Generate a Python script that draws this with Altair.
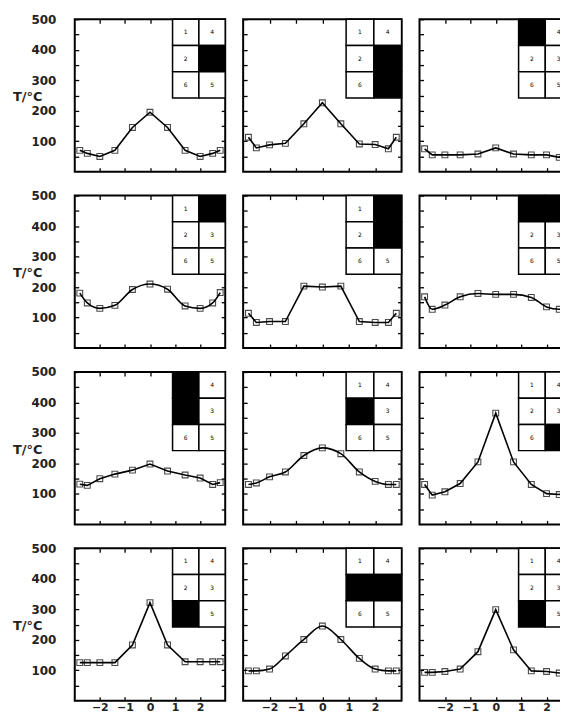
import altair as alt
import pandas as pd

# ---- data ----
X = [-2.8, -2.5, -2.0, -1.4, -0.7, 0.0, 0.7, 1.4, 2.0, 2.5, 2.8]

T_11 = [70, 60, 50, 70, 145, 195, 145, 70, 50, 60, 70]
T_12 = [113, 78, 88, 93, 157, 226, 157, 91, 89, 75, 113]
T_13 = [75, 55, 55, 55, 58, 78, 58, 55, 55, 47, 75]
T_21 = [180, 148, 130, 140, 192, 210, 193, 138, 130, 148, 182]
T_22 = [114, 84, 87, 87, 203, 200, 203, 87, 84, 84, 114]
T_23 = [168, 127, 141, 168, 179, 176, 176, 166, 135, 127, 171]
T_31 = [132, 128, 150, 165, 178, 198, 175, 162, 152, 131, 137]
T_32 = [131, 136, 156, 172, 226, 251, 232, 172, 141, 131, 131]
T_33 = [131, 96, 107, 134, 205, 365, 205, 131, 101, 98, 112]
T_41 = [125, 125, 125, 125, 183, 322, 183, 128, 128, 128, 128]
T_42 = [98, 98, 104, 147, 201, 245, 201, 139, 104, 98, 98]
T_43 = [93, 93, 96, 104, 161, 299, 167, 98, 96, 91, 93]
PANELS = [T_11, T_12, T_13, T_21, T_22, T_23, T_31, T_32, T_33, T_41, T_42, T_43]

# which inset cells are black in each panel
BLACK = [[3], [3, 5], [1], [4], [4, 3], [1, 4], [1, 2], [2], [5], [6], [2, 3], [6]]
# inset cell numbers: rows top->bottom, columns left->right
CELL_LABELS = [[1, 4], [2, 3], [6, 5]]

X_TICKS = [-2, -1, 0, 1, 2]
Y_TICKS = [50, 100, 150, 200, 250, 300, 350, 400, 450, 500]
Y_TITLE = "T/°C"
Y_TITLE_AT = 245

# ---- layout / style ----
WIDTHS = [151, 159, 153]
HEIGHT = 153
INTERP = ["linear", "linear", "linear",
          "monotone", "linear", "monotone",
          "linear", "monotone", "linear",
          "linear", "monotone", "linear"]
INSET_X = [0.9, 1.95, 3.0]
INSET_Y = [500, 414, 328, 242]
FONT = "DejaVu Sans"


def panel(i):
    r, c = divmod(i, 3)
    xs = alt.Scale(domain=[-3, 3], nice=False, zero=False)
    ys = alt.Scale(domain=[0, 500], nice=False, zero=False)
    df = pd.DataFrame({"x": X, "T": PANELS[i]})

    bottom = dict(orient="bottom", values=X_TICKS, offset=-4, tickSize=4,
                  domain=False, grid=False, labels=(r == 3), labelPadding=1,
                  labelFontSize=11, labelFlush=False, labelOverlap=False, title=None)
    left = dict(orient="left", values=Y_TICKS, offset=-4, tickSize=4,
                domain=False, grid=False, labels=(c == 0), labelPadding=19,
                labelFlush=False, labelOverlap=False, title=None,
                labelExpr="datum.value % 100 === 0 ? datum.label : ''")
    top = dict(orient="top", values=X_TICKS, offset=-4, tickSize=4,
               domain=False, grid=False, labels=False, title=None)
    right = dict(orient="right", values=Y_TICKS[:-1], offset=-4, tickSize=4,
                 domain=False, grid=False, labels=False, title=None)

    line = alt.Chart(df).mark_line(color="black", strokeWidth=1.6,
                                   interpolate=INTERP[i]).encode(
        x=alt.X("x:Q", scale=xs, axis=alt.Axis(**bottom)),
        y=alt.Y("T:Q", scale=ys, axis=alt.Axis(**left)),
    )
    pts = alt.Chart(df).mark_point(shape="square", filled=False, size=34,
                                   color="black", strokeWidth=1.1).encode(
        x=alt.X("x:Q", scale=xs, axis=alt.Axis(**top)),
        y=alt.Y("T:Q", scale=ys, axis=alt.Axis(**right)),
    )

    rows = []
    for ri, row in enumerate(CELL_LABELS):
        for ci, lab in enumerate(row):
            rows.append({
                "x0": INSET_X[ci], "x1": INSET_X[ci + 1],
                "y0": INSET_Y[ri + 1], "y1": INSET_Y[ri],
                "xc": (INSET_X[ci] + INSET_X[ci + 1]) / 2,
                "yc": (INSET_Y[ri] + INSET_Y[ri + 1]) / 2,
                "label": str(lab), "black": lab in BLACK[i],
            })
    cells = pd.DataFrame(rows)
    rect = alt.Chart(cells).mark_rect(stroke="black", strokeWidth=1.5).encode(
        x=alt.X("x0:Q", scale=xs, axis=None), x2="x1:Q",
        y=alt.Y("y0:Q", scale=ys, axis=None), y2="y1:Q",
        fill=alt.condition("datum.black", alt.value("black"), alt.value("white")),
    )
    txt = alt.Chart(cells).mark_text(fontSize=6, font=FONT, color="black").encode(
        x=alt.X("xc:Q", scale=xs, axis=None),
        y=alt.Y("yc:Q", scale=ys, axis=None),
        text="label:N",
    )
    layers = [line, pts, rect, txt]
    if c == 0:
        tdf = pd.DataFrame({"x": [-3], "y": [Y_TITLE_AT], "t": [Y_TITLE]})
        ttl = alt.Chart(tdf).mark_text(
            align="left", baseline="middle", dx=-62, font=FONT, fontSize=13,
            fontWeight="bold", color="#222",
        ).encode(
            x=alt.X("x:Q", scale=xs, axis=None),
            y=alt.Y("y:Q", scale=ys, axis=None),
            text="t:N",
        )
        layers.append(ttl)
    return alt.layer(*layers).resolve_axis(
        x="independent", y="independent"
    ).properties(width=WIDTHS[c], height=HEIGHT)


chart = alt.concat(
    *[panel(i) for i in range(12)], columns=3,
    spacing={"row": 24, "column": 18}, bounds="flush",
).properties(
    # the right-hand column runs past the page edge, as in the reference
    padding={"left": 4, "top": 3, "right": -14, "bottom": 0}
).configure_view(
    stroke="black", strokeWidth=2
).configure_axis(
    labelFont=FONT, labelFontSize=12, labelFontWeight="bold", labelColor="#222",
    tickColor="black", tickWidth=1.3,
)

chart.save("out.html", embed_options={"renderer": "svg", "actions": False})
